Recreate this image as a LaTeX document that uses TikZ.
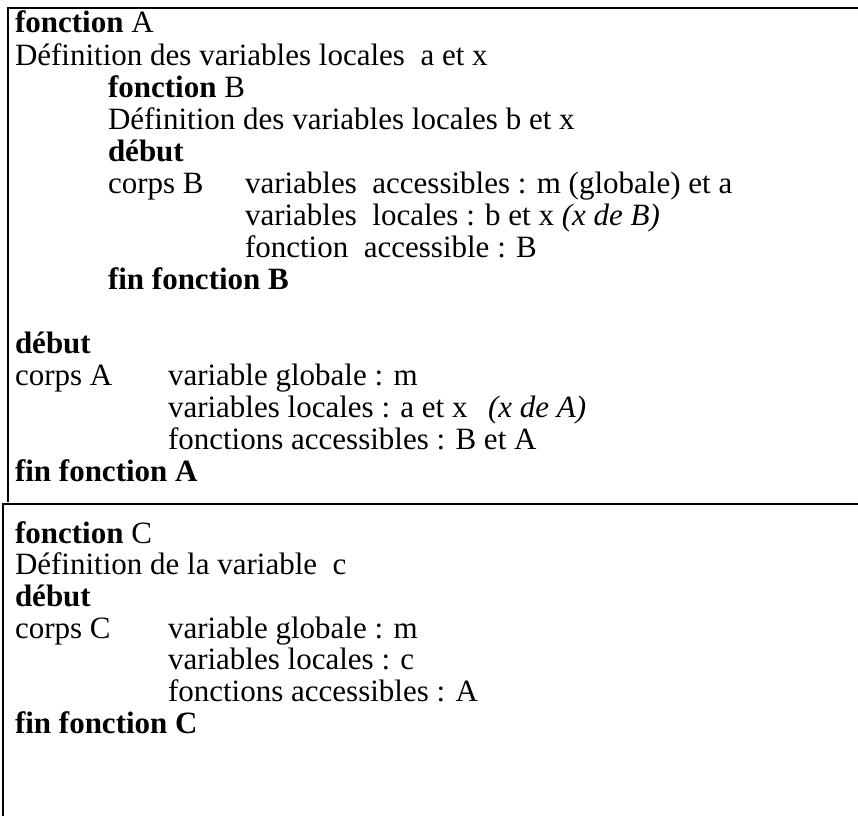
\documentclass[tikz,border=0pt]{standalone}
\usepackage{fontspec}
\setmainfont{Liberation Serif}
\begin{document}
\begin{tikzpicture}[x=1pt,y=-1pt,
  txt/.style={anchor=base west,inner sep=0pt,outer sep=0pt,font=\fontsize{31}{32}\selectfont},
  frame/.style={line width=1.6pt,black}]
\useasboundingbox (0,0) rectangle (858,816);
% frames
\draw[frame] (8,502) -- (8,8) -- (858,8);
\draw[frame] (3,816) -- (3,504) -- (858,504);
% box A
\def\la{32.07}
\node[txt] (l1) at (15,33) {\textbf{fonction} A};
\node[txt] (l2) at (15,33+1*\la) {Définition des variables locales~ a et x};
\node[txt] (l3) at (108,33+2*\la) {\textbf{fonction} B};
\node[txt] (l4) at (108,33+3*\la) {Définition des variables locales b et x};
\node[txt] (l5) at (108,33+4*\la) {\textbf{début}};
\node[txt] (l6) at (108,33+5*\la) {corps B};
\node[txt] (l6b) at (245,33+5*\la) {variables~ accessibles : m (globale) et a};
\node[txt] (l7) at (245,33+6*\la) {variables~ locales : b et x \textit{(x de B)}};
\node[txt] (l8) at (245,33+7*\la) {fonction~ accessible : B};
\node[txt] (l9) at (108,33+8*\la) {\textbf{fin fonction B}};
\node[txt] (l11) at (15,33+10*\la) {\textbf{début}};
\node[txt] (l12) at (15,33+11*\la) {corps A};
\node[txt] (l12b) at (168,33+11*\la) {variable globale : m};
\node[txt] (l13) at (168,33+12*\la) {variables locales : a et x};
\node[txt] (l13b) at (488,33+12*\la) {\textit{(x de A)}};
\node[txt] (l14) at (168,33+13*\la) {fonctions accessibles : B et A};
\node[txt] (l15) at (15,33+14*\la) {\textbf{fin fonction A}};
% box C
\def\lc{31.7}
\node[txt] (c1) at (15,543) {\textbf{fonction} C};
\node[txt] (c2) at (15,543+1*\lc) {Définition de la variable~ c};
\node[txt] (c3) at (15,543+2*\lc) {\textbf{début}};
\node[txt] (c4) at (15,543+3*\lc) {corps C};
\node[txt] (c4b) at (168,543+3*\lc) {variable globale : m};
\node[txt] (c5) at (168,543+4*\lc) {variables locales : c};
\node[txt] (c6) at (168,543+5*\lc) {fonctions accessibles : A};
\node[txt] (c7) at (15,543+6*\lc) {\textbf{fin fonction C}};
\end{tikzpicture}
\end{document}
